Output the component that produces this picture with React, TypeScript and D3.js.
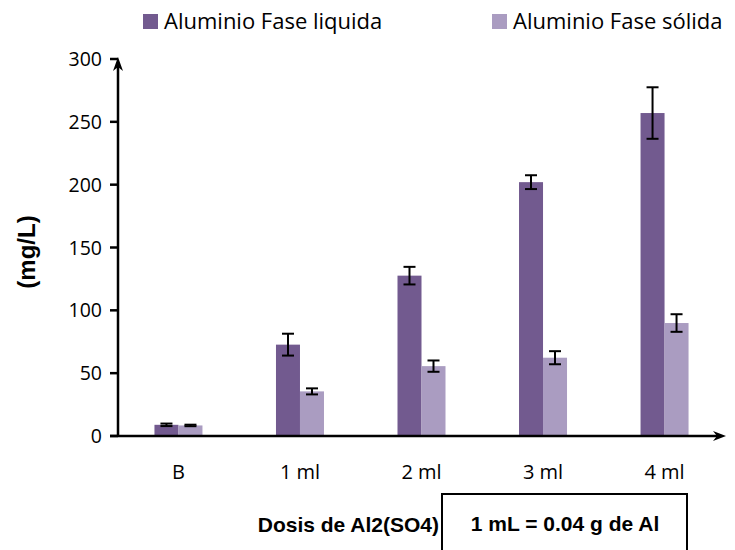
import React from "react";
import * as d3 from "d3";

const categories = ["B", "1 ml", "2 ml", "3 ml", "4 ml"];
const seriesNames = ["Aluminio Fase liquida", "Aluminio Fase sólida"];
const liquidValues = [8.9, 72.7, 127.6, 202, 257];
const liquidErrors = [1, 8.7, 7, 5.5, 20.5];
const solidValues = [8.4, 35.5, 55.6, 62.3, 89.9];
const solidErrors = [0.6, 2.4, 4.5, 5.2, 7];
const yTicks = [0, 50, 100, 150, 200, 250, 300];
const seriesColors = ["#725A8F", "#AA9CC1"];

const W = 735;
const H = 550;
const axisX = 118;
const axisY = 436;
const yTop = 59;
const xEnd = 725;

export default function App() {
  const y = d3.scaleLinear().domain([0, 300]).range([axisY, yTop]);
  const x = d3
    .scaleBand<string>()
    .domain(categories)
    .range([axisX, xEnd])
    .paddingInner(0.605)
    .paddingOuter(0.3);
  const xs = d3.scaleBand<string>().domain(seriesNames).range([0, x.bandwidth()]);

  const series = [
    { name: seriesNames[0], values: liquidValues, errors: liquidErrors, color: seriesColors[0] },
    { name: seriesNames[1], values: solidValues, errors: solidErrors, color: seriesColors[1] },
  ];

  const font = "Open Sans, Noto Sans, sans-serif";
  const bold = "Liberation Sans, Arial, sans-serif";
  const capHalf = 6;
  const legendX = [143, 492];

  return (
    <svg width={W} height={H} style={{ position: "absolute", left: 0, top: 0, background: "#fff" }}>
      {/* legend */}
      {series.map((s, i) => (
        <g key={s.name}>
          <rect x={legendX[i]} y={14} width={15} height={15} fill={s.color} />
          <text x={legendX[i] + 21} y={29} fontFamily={font} fontSize={22} fill="#000">
            {s.name}
          </text>
        </g>
      ))}

      {/* bars */}
      {series.map((s) =>
        categories.map((c, i) => {
          const bx = (x(c) ?? 0) + (xs(s.name) ?? 0);
          return (
            <rect
              key={s.name + c}
              x={bx}
              y={y(s.values[i])}
              width={xs.bandwidth()}
              height={axisY - y(s.values[i])}
              fill={s.color}
            />
          );
        })
      )}

      {/* error bars */}
      {series.map((s) =>
        categories.map((c, i) => {
          const cx = (x(c) ?? 0) + (xs(s.name) ?? 0) + xs.bandwidth() / 2;
          const hi = y(s.values[i] + s.errors[i]);
          const lo = y(s.values[i] - s.errors[i]);
          return (
            <g key={"e" + s.name + c} stroke="#000" strokeWidth={2}>
              <line x1={cx} x2={cx} y1={hi} y2={lo} />
              <line x1={cx - capHalf} x2={cx + capHalf} y1={hi} y2={hi} />
              <line x1={cx - capHalf} x2={cx + capHalf} y1={lo} y2={lo} />
            </g>
          );
        })
      )}

      {/* y axis */}
      <line x1={axisX} x2={axisX} y1={axisY + 1} y2={yTop + 4} stroke="#000" strokeWidth={2.5} />
      <path d={`M${axisX - 5},${yTop + 12} L${axisX},${yTop - 2} L${axisX + 5},${yTop + 12} L${axisX},${yTop + 8} Z`} fill="#000" />
      {yTicks.map((t) => (
        <g key={t}>
          <line x1={110} x2={axisX} y1={y(t)} y2={y(t)} stroke="#000" strokeWidth={2.5} />
          <text x={102} y={y(t)} dy="0.36em" textAnchor="end" fontFamily={font} fontSize={19.5} fill="#000">
            {t}
          </text>
        </g>
      ))}
      <text
        transform={`translate(35,252) rotate(-90)`}
        textAnchor="middle"
        fontFamily={bold}
        fontWeight="bold"
        fontSize={24}
        fill="#000"
      >
        (mg/L)
      </text>

      {/* x axis */}
      <line x1={110} x2={xEnd - 6} y1={axisY} y2={axisY} stroke="#000" strokeWidth={2.5} />
      <path d={`M${xEnd - 12},${axisY - 5} L${xEnd + 1},${axisY} L${xEnd - 12},${axisY + 5} L${xEnd - 8},${axisY} Z`} fill="#000" />
      {categories.map((c) => (
        <text
          key={c}
          x={(x(c) ?? 0) + x.bandwidth() / 2}
          y={479}
          textAnchor="middle"
          fontFamily={font}
          fontSize={20}
          fill="#000"
        >
          {c}
        </text>
      ))}

      {/* axis title and note */}
      <text x={439} y={532} textAnchor="end" fontFamily={bold} fontWeight="bold" fontSize={21} fill="#000">
        Dosis de Al2(SO4)
      </text>
      <rect x={442} y={494} width={245} height={80} fill="none" stroke="#000" strokeWidth={2} />
      <text x={565} y={531} textAnchor="middle" fontFamily={bold} fontWeight="bold" fontSize={21} fill="#000">
        1 mL = 0.04 g de Al
      </text>
    </svg>
  );
}
